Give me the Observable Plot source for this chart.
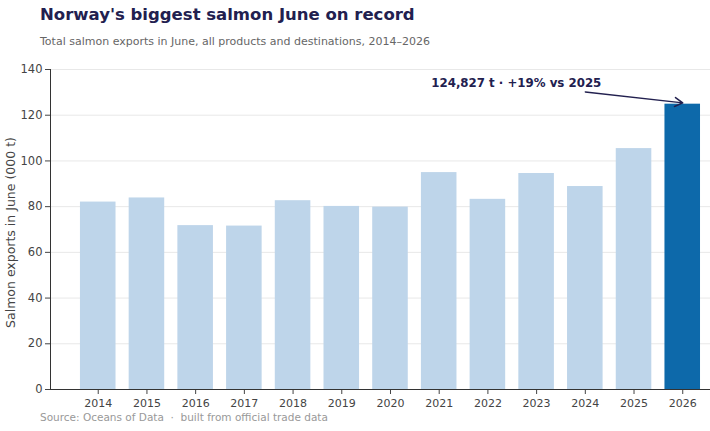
<!DOCTYPE html>
<html>
<head>
<meta charset="utf-8">
<script src="https://cdn.jsdelivr.net/npm/d3@7"></script>
<script src="https://cdn.jsdelivr.net/npm/@observablehq/plot@0.6"></script>
<style>
  html, body { margin: 0; padding: 0; background: #fff; }
  body { width: 710px; height: 431px; position: relative; overflow: hidden; font-family: "DejaVu Sans", sans-serif; }
  #title { position: absolute; left: 40px; top: 5px; font-size: 16.5px; font-weight: bold; color: #22204f; white-space: nowrap; }
  #subtitle { position: absolute; left: 40px; top: 35px; font-size: 11px; color: #666; white-space: nowrap; }
  #chart { position: absolute; left: 0; top: 56px; }
  #caption { position: absolute; left: 40px; top: 411px; font-size: 10.5px; color: #999; white-space: pre; }
</style>
</head>
<body>
<div id="title">Norway's biggest salmon June on record</div>
<div id="subtitle">Total salmon exports in June, all products and destinations, 2014–2026</div>
<div id="chart"></div>
<div id="caption">Source: Oceans of Data  ·  built from official trade data</div>
<script>
const years = ["2014","2015","2016","2017","2018","2019","2020","2021","2022","2023","2024","2025","2026"];
const exportsK = [82.0, 83.8, 71.7, 71.5, 82.6, 80.1, 79.8, 94.9, 83.2, 94.5, 88.8, 105.4, 124.827];
const highlightYear = "2026";
const yTicks = [0, 20, 40, 60, 80, 100, 120, 140];
const yLabel = ["Salmon exports in June (000 t)"];

const annText = ["124,827 t · +19% vs 2025"];
const annTextX = ["2024"];
const annTextY = [134];
const arrowFromX = ["2024"];
const arrowFromY = [130.2];
const arrowToX = ["2026"];
const arrowToY = [125.4];

const data = years.map((y, i) => ({year: y, value: exportsK[i], hi: y === highlightYear}));
const ann = annText.map((t, i) => ({text: t, x: annTextX[i], y: annTextY[i]}));
const arrows = arrowFromX.map((x, i) => ({x1: x, y1: arrowFromY[i], x2: arrowToX[i], y2: arrowToY[i]}));

const navy = "#22204f";

const chart = Plot.plot({
  width: 710,
  height: 355,
  marginLeft: 50,
  marginRight: 0,
  marginTop: 13,
  marginBottom: 22,
  style: {fontFamily: "DejaVu Sans, sans-serif", fontSize: "11px", color: "#444", background: "#fff"},
  x: {domain: years, paddingInner: 0.27, paddingOuter: 0.41, align: 0.75, round: false, label: null},
  y: {domain: [0, 140], ticks: yTicks, label: null},
  marks: [
    Plot.gridY(yTicks, {stroke: "#e8e8e8", strokeOpacity: 1, strokeWidth: 1}),
    Plot.barY(data, {x: "year", y: "value", fill: d => d.hi ? "#0d69aa" : "#bed5ea"}),
    Plot.axisX({tickSize: 5, tickPadding: 5, fill: "#444", fontSize: 11, label: null}),
    Plot.axisY(yTicks, {tickSize: 5, tickPadding: 3, fill: "#444", fontSize: 11.5, label: null}),
    Plot.text(yLabel, {frameAnchor: "left", rotate: -90, textAnchor: "middle", dx: -40, dy: 3, fontSize: 12.5, fill: "#444", text: d => d}),
    Plot.frame({anchor: "left", stroke: "#333"}),
    Plot.ruleY([0], {stroke: "#333"}),
    Plot.arrow(arrows, {x1: "x1", y1: "y1", x2: "x2", y2: "y2", bend: 0, stroke: navy, strokeWidth: 1.5, headLength: 9}),
    Plot.text(ann, {x: "x", y: "y", text: "text", textAnchor: "end", dx: 16, fill: navy, fontWeight: "bold", fontSize: 11.8})
  ]
});
document.getElementById("chart").appendChild(chart);
</script>
</body>
</html>
